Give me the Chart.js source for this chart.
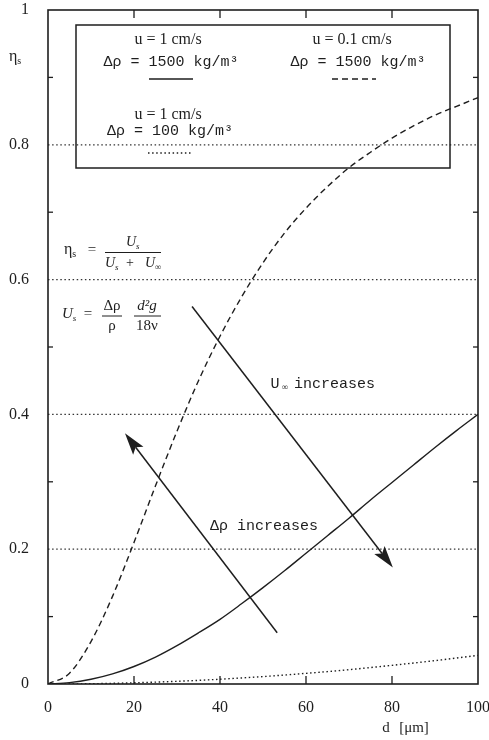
<!DOCTYPE html>
<html>
<head>
<meta charset="utf-8">
<script src="https://cdn.jsdelivr.net/npm/chart.js@4.4.1/dist/chart.umd.min.js"></script>
<style>
  html, body { margin: 0; padding: 0; background: #fff; }
  canvas { display: block; }
</style>
</head>
<body>
<canvas id="chart" width="489" height="740"></canvas>
<script>
// particle diameter d [um] and collection efficiency
const diameters = [0, 5, 10, 15, 20, 25, 30, 35, 40, 45, 50, 55, 60, 65, 70, 75, 80, 85, 90, 95, 100];
const etaU1Rho1500 = [0, 0.002, 0.007, 0.015, 0.026, 0.040, 0.057, 0.076, 0.096, 0.119, 0.143, 0.168, 0.194, 0.220, 0.246, 0.273, 0.299, 0.325, 0.351, 0.376, 0.400];
const etaU01Rho1500 = [0, 0.016, 0.063, 0.130, 0.210, 0.294, 0.375, 0.450, 0.516, 0.574, 0.625, 0.669, 0.706, 0.738, 0.766, 0.789, 0.810, 0.828, 0.844, 0.857, 0.870];
const etaU1Rho100 = [0, 0.0001, 0.0004, 0.001, 0.0018, 0.0028, 0.004, 0.0054, 0.0071, 0.009, 0.011, 0.0133, 0.0158, 0.0184, 0.0213, 0.0244, 0.0277, 0.0311, 0.0347, 0.0385, 0.0425];

const xTicks = [0, 20, 40, 60, 80, 100];
const yTicks = [0, 0.2, 0.4, 0.6, 0.8, 1];
const gridLevels = [0.2, 0.4, 0.6, 0.8];

// arrows, in data units [d, eta]
const arrowUinf = { from: [33.5, 0.560], to: [80.2, 0.173] };
const arrowDrho = { from: [53.3, 0.076], to: [17.9, 0.372] };

const INK = "#1e1e1e";
const SERIF = "'Liberation Serif', 'DejaVu Serif', serif";
const MONO = "'Liberation Mono', 'DejaVu Sans Mono', monospace";

function pts(ys) {
    return diameters.map((d, i) => ({ x: d, y: ys[i] }));
}

function txt(ctx, s, x, y, font, align) {
    ctx.font = font;
    ctx.textAlign = align || "center";
    ctx.textBaseline = "middle";
    ctx.fillText(s, x, y);
}

// symbol with subscript, left aligned at x
function sub(ctx, base, subs, x, y, size, italic) {
    ctx.textAlign = "left";
    ctx.textBaseline = "middle";
    ctx.font = (italic ? "italic " : "") + size + "px " + SERIF;
    ctx.fillText(base, x, y);
    const w = ctx.measureText(base).width;
    ctx.font = (italic ? "italic " : "") + Math.round(size * 0.62) + "px " + SERIF;
    ctx.fillText(subs, x + w, y + size * 0.3);
    return w + ctx.measureText(subs).width;
}

function hline(ctx, x1, x2, y, dash) {
    ctx.save();
    ctx.setLineDash(dash || []);
    ctx.beginPath();
    ctx.moveTo(x1, y);
    ctx.lineTo(x2, y);
    ctx.stroke();
    ctx.restore();
}

function arrow(ctx, xs, ys, a) {
    const x1 = xs.getPixelForValue(a.from[0]), y1 = ys.getPixelForValue(a.from[1]);
    const x2 = xs.getPixelForValue(a.to[0]), y2 = ys.getPixelForValue(a.to[1]);
    const len = Math.hypot(x2 - x1, y2 - y1);
    const ux = (x2 - x1) / len, uy = (y2 - y1) / len;
    const hl = 22, hw = 6.5;
    ctx.beginPath();
    ctx.moveTo(x1, y1);
    ctx.lineTo(x2 - ux * hl * 0.8, y2 - uy * hl * 0.8);
    ctx.stroke();
    ctx.beginPath();
    ctx.moveTo(x2, y2);
    ctx.lineTo(x2 - ux * hl - uy * hw, y2 - uy * hl + ux * hw);
    ctx.lineTo(x2 - ux * hl * 0.8, y2 - uy * hl * 0.8);
    ctx.lineTo(x2 - ux * hl + uy * hw, y2 - uy * hl - ux * hw);
    ctx.closePath();
    ctx.fill();
}

const decor = {
    id: "decor",
    beforeDatasetsDraw(chart) {
        const { ctx, chartArea: a, scales: { y } } = chart;
        ctx.save();
        ctx.strokeStyle = "#333";
        ctx.lineWidth = 1.3;
        gridLevels.forEach((v) => hline(ctx, a.left, a.right, y.getPixelForValue(v), [1.5, 2.6]));
        ctx.restore();
    },
    afterDatasetsDraw(chart) {
        const { ctx, chartArea: a, scales: { x, y } } = chart;
        ctx.save();
        ctx.strokeStyle = INK;
        ctx.fillStyle = INK;

        // frame and inward ticks
        ctx.lineWidth = 1.6;
        ctx.strokeRect(a.left, a.top, a.right - a.left, a.bottom - a.top);
        ctx.lineWidth = 1.3;
        for (let i = 1; i < 10; i += 2) {
            const py = y.getPixelForValue(i / 10);
            hline(ctx, a.left, a.left + 5, py);
            hline(ctx, a.right - 5, a.right, py);
        }
        xTicks.slice(1, -1).forEach((v) => {
            const px = x.getPixelForValue(v);
            ctx.beginPath();
            ctx.moveTo(px, a.bottom); ctx.lineTo(px, a.bottom - 8);
            ctx.moveTo(px, a.top); ctx.lineTo(px, a.top + 8);
            ctx.stroke();
        });

        // axis labels
        sub(ctx, "η", "s", 9, 57, 16, false);
        txt(ctx, "d", 386, 728, "15px " + SERIF);
        txt(ctx, "[μm]", 414, 728, "15px " + SERIF);

        // legend box
        ctx.lineWidth = 1.5;
        ctx.strokeRect(76, 25, 374, 143);
        txt(ctx, "u = 1 cm/s", 168, 40, "16px " + SERIF);
        txt(ctx, "Δρ = 1500 kg/m³", 171, 62, "15px " + MONO);
        txt(ctx, "u = 0.1 cm/s", 352, 40, "16px " + SERIF);
        txt(ctx, "Δρ = 1500 kg/m³", 358, 62, "15px " + MONO);
        txt(ctx, "u = 1 cm/s", 168, 115, "16px " + SERIF);
        txt(ctx, "Δρ = 100 kg/m³", 170, 131, "15px " + MONO);
        ctx.lineWidth = 1.3;
        hline(ctx, 149, 193, 79);
        hline(ctx, 332, 376, 79, [6, 4]);
        hline(ctx, 148, 192, 153, [1.5, 2.6]);

        // eta_s = Us / (Us + Uinf)
        sub(ctx, "η", "s", 64, 250, 16, false);
        txt(ctx, "=", 92, 250, "15px " + SERIF);
        sub(ctx, "U", "s", 126, 242, 14, true);
        ctx.lineWidth = 1;
        hline(ctx, 105, 161, 252.5);
        sub(ctx, "U", "s", 105, 263, 14, true);
        txt(ctx, "+", 130, 263, "14px " + SERIF);
        sub(ctx, "U", "∞", 145, 263, 14, true);

        // Us = drho/rho * d2 g / 18 nu
        sub(ctx, "U", "s", 62, 314, 15, true);
        txt(ctx, "=", 88, 314, "15px " + SERIF);
        txt(ctx, "Δρ", 112, 306, "15px " + SERIF);
        hline(ctx, 102, 122, 316);
        txt(ctx, "ρ", 112, 326, "15px " + SERIF);
        txt(ctx, "d²g", 147, 306, "italic 15px " + SERIF);
        hline(ctx, 134, 161, 316);
        txt(ctx, "18ν", 147, 326, "15px " + SERIF);

        // arrows and their labels
        ctx.lineWidth = 1.5;
        arrow(ctx, x, y, arrowUinf);
        arrow(ctx, x, y, arrowDrho);
        ctx.fillStyle = INK;
        txt(ctx, "U", 275, 384, "15px " + MONO);
        txt(ctx, "∞", 285, 388, "9px " + SERIF);
        txt(ctx, "increases", 294, 384, "15px " + MONO, "left");
        txt(ctx, "Δρ increases", 210, 526, "15px " + MONO, "left");
        ctx.restore();
    },
};

new Chart(document.getElementById("chart"), {
    type: "line",
    data: {
        datasets: [
            {
                label: "u = 1 cm/s, Δρ = 1500 kg/m³",
                data: pts(etaU1Rho1500),
                borderColor: INK,
                borderWidth: 1.4,
            },
            {
                label: "u = 0.1 cm/s, Δρ = 1500 kg/m³",
                data: pts(etaU01Rho1500),
                borderColor: INK,
                borderWidth: 1.4,
                borderDash: [6, 4],
            },
            {
                label: "u = 1 cm/s, Δρ = 100 kg/m³",
                data: pts(etaU1Rho100),
                borderColor: INK,
                borderWidth: 1.4,
                borderDash: [1.5, 2.6],
            },
        ],
    },
    options: {
        responsive: false,
        animation: false,
        devicePixelRatio: 1,
        elements: {
            point: { radius: 0 },
            line: { cubicInterpolationMode: "monotone", fill: false },
        },
        layout: { padding: { top: 10, right: 11, bottom: 0, left: 0 } },
        plugins: {
            legend: { display: false },
            tooltip: { enabled: false },
        },
        scales: {
            x: {
                type: "linear",
                min: 0,
                max: 100,
                grid: { display: false },
                border: { display: false },
                ticks: {
                    stepSize: 20,
                    color: INK,
                    padding: 6,
                    font: { family: SERIF, size: 16 },
                },
                afterFit: (s) => {
                    s.height = 56;
                    s.paddingLeft = 0;
                    s.paddingRight = 0;
                },
            },
            y: {
                min: 0,
                max: 1,
                grid: { display: false },
                border: { display: false },
                ticks: {
                    stepSize: 0.1,
                    color: INK,
                    padding: 11,
                    font: { family: SERIF, size: 16 },
                    callback: (v) => {
                        const k = Math.round(v * 10);
                        return yTicks.includes(k / 10) ? String(k / 10) : "";
                    },
                },
                afterFit: (s) => {
                    s.width = 48;
                    s.paddingTop = 0;
                    s.paddingBottom = 0;
                },
            },
        },
    },
    plugins: [decor],
});
</script>
</body>
</html>
